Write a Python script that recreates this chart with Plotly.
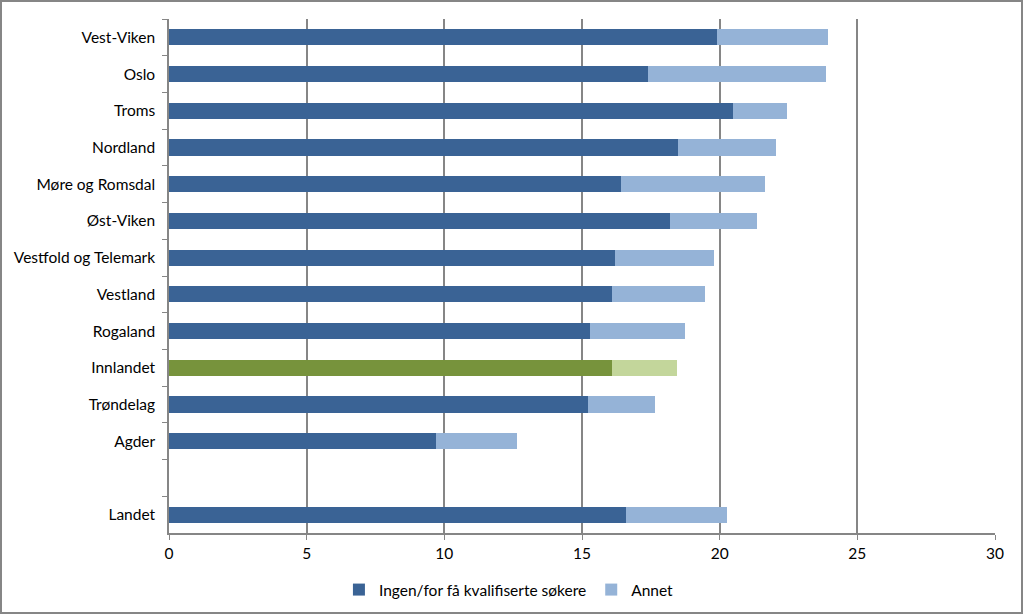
import plotly.graph_objects as go

categories = ["Vest-Viken", "Oslo", "Troms", "Nordland", "Møre og Romsdal", "Øst-Viken",
              "Vestfold og Telemark", "Vestland", "Rogaland", "Innlandet", "Trøndelag",
              "Agder", " ", "Landet"]
ingen = [19.9, 17.4, 20.5, 18.5, 16.4, 18.2, 16.2, 16.1, 15.3, 16.1, 15.2, 9.7, None, 16.6]
annet = [4.05, 6.45, 1.95, 3.55, 5.25, 3.15, 3.6, 3.35, 3.45, 2.35, 2.45, 2.95, None, 3.65]
x_ticks = [0, 5, 10, 15, 20, 25, 30]
highlight = "Innlandet"

dark_blue, light_blue = "#3A6395", "#95B3D7"
dark_green, light_green = "#77933C", "#C3D69B"
c1 = [dark_green if c == highlight else dark_blue for c in categories]
c2 = [light_green if c == highlight else light_blue for c in categories]

fig = go.Figure()
fig.add_trace(go.Bar(y=categories, x=ingen, orientation="h", name="Ingen/for få kvalifiserte søkere",
                     marker=dict(color=c1, line=dict(width=0)), width=0.44))
fig.add_trace(go.Bar(y=categories, x=annet, orientation="h", name="Annet",
                     marker=dict(color=c2, line=dict(width=0)), width=0.44))

W, H = 1024, 615
ml, mr, mt, mb = 169, 29, 19, 82
pw, ph = W - ml - mr, H - mt - mb

fig.update_layout(
    barmode="stack",
    width=W, height=H,
    margin=dict(l=ml, r=mr, t=mt, b=mb, autoexpand=False),
    paper_bgcolor="white", plot_bgcolor="white",
    font=dict(family="Lato, Open Sans, sans-serif", size=15.5, color="#000000"),
    showlegend=True,
    legend=dict(orientation="h", x=0.497, xanchor="center", xref="container",
                y=(H - 590) / H, yanchor="middle", yref="container",
                font=dict(size=15.5), traceorder="normal", itemwidth=30),
    xaxis=dict(range=[0, 30], tickvals=x_ticks, showgrid=True, gridcolor="#868686", gridwidth=1.5,
               showline=True, linecolor="#868686", linewidth=1.5, ticks="outside", ticklen=5,
               tickcolor="#868686", zeroline=False, fixedrange=True, ticklabelstandoff=1),
    yaxis=dict(type="category", categoryorder="array", categoryarray=categories,
               autorange="reversed", showline=True, linecolor="#868686", linewidth=1.5,
               ticks="outside", ticklen=5, tickcolor="#868686", tickson="boundaries",
               showgrid=False, ticklabelstandoff=9, fixedrange=True),
    shapes=[dict(type="rect", xref="paper", yref="paper",
                 x0=(1 - ml) / pw, x1=(W - 2 - ml) / pw,
                 y0=(H - mb - (H - 2)) / ph, y1=(H - mb - 1) / ph,
                 line=dict(color="#868686", width=2), fillcolor="rgba(0,0,0,0)", layer="below")],
)
fig.write_html("out.html", config={"displayModeBar": False},
               post_script="document.body.style.margin='0';document.body.style.overflow='hidden';")
